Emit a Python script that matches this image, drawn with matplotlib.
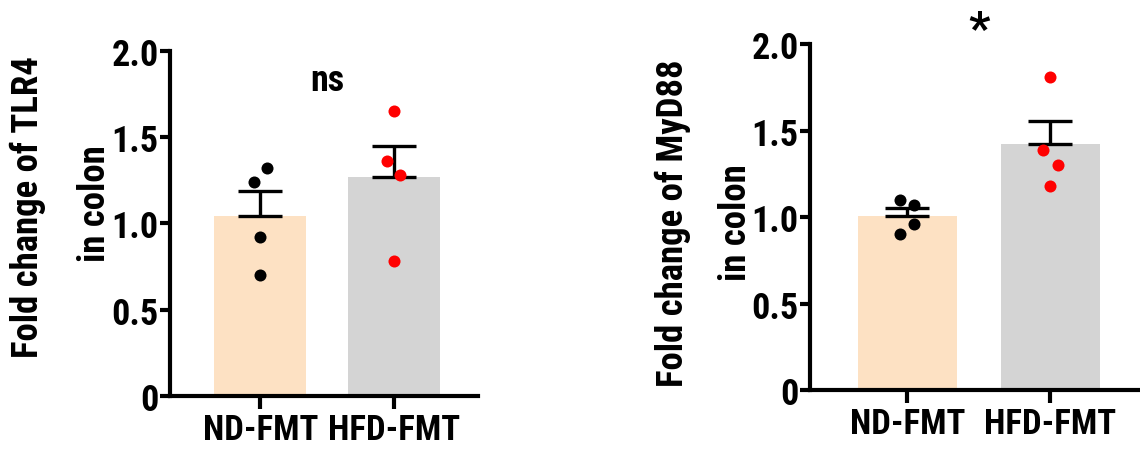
import numpy as np
import matplotlib
matplotlib.use('Agg')
import matplotlib.pyplot as plt

groups = ['ND-FMT', 'HFD-FMT']

tlr4_nd = [1.32, 1.24, 0.92, 0.70]
tlr4_hfd = [1.65, 1.36, 1.28, 0.78]
tlr4_x_offsets = [[0.05, -0.05, 0.0, 0.0], [0.0, -0.05, 0.05, 0.0]]

myd88_nd = [1.10, 1.07, 0.96, 0.90]
myd88_hfd = [1.81, 1.39, 1.30, 1.18]
myd88_x_offsets = [[-0.05, 0.05, 0.05, -0.05], [0.0, -0.05, 0.05, 0.0]]

bar_colors = ['#FDE1C3', '#D4D4D4']
dot_colors = ['black', 'red']

plt.rcParams['font.family'] = ['Roboto Condensed', 'Liberation Sans', 'DejaVu Sans']
plt.rcParams['font.weight'] = 'bold'

W, H = 1140, 452


def panel(ax, nd, hfd, offsets, sig, sig_size, sig_y):
    data = [np.array(nd), np.array(hfd)]
    x = np.arange(len(groups))
    means = [d.mean() for d in data]
    sems = [d.std(ddof=1) / np.sqrt(len(d)) for d in data]
    ax.bar(x, means, width=0.69, color=bar_colors, zorder=1)
    for i in range(len(groups)):
        ax.errorbar(x[i], means[i], yerr=[[0], [sems[i]]], color='black',
                    capsize=16, elinewidth=2.4, capthick=2.4, zorder=2)
        ax.scatter(x[i] + np.array(offsets[i]), data[i], s=75,
                   color=dot_colors[i], zorder=3, linewidths=0)
    ax.set_ylim(0, 2.0)
    ax.set_xlim(-0.68, 1.63)
    ax.set_yticks([0, 0.5, 1.0, 1.5, 2.0])
    ax.set_yticklabels(['0', '0.5', '1.0', '1.5', '2.0'])
    ax.set_xticks(x)
    ax.set_xticklabels(groups)
    ax.tick_params(axis='y', labelsize=26, width=3, length=7, pad=1)
    ax.tick_params(axis='x', labelsize=25, width=3, length=9, pad=3)
    for s in ['top', 'right']:
        ax.spines[s].set_visible(False)
    for s in ['left', 'bottom']:
        ax.spines[s].set_linewidth(3)
    ax.text(0.5, sig_y, sig, transform=ax.transData, ha='center', va='center',
            fontsize=sig_size, fontweight='bold', clip_on=False)


fig = plt.figure(figsize=(11.4, 4.52), dpi=100)
ax1 = fig.add_axes([0.149, 0.122, 0.27, 0.763])
ax2 = fig.add_axes([0.7105, 0.135, 0.29, 0.765])

panel(ax1, tlr4_nd, tlr4_hfd, tlr4_x_offsets, 'ns', 26, 1.83)
panel(ax2, myd88_nd, myd88_hfd, myd88_x_offsets, '*', 34, 2.08)

# two-line y labels
label_kw = dict(rotation=90, ha='center', va='center', fontsize=26.5, fontweight='bold')
fig.text(28 / W, 1 - 207 / H, 'Fold change of TLR4', **label_kw)
fig.text(95 / W, 1 - 204 / H, 'in colon', **label_kw)
fig.text(673 / W, 1 - 223 / H, 'Fold change of MyD88', **label_kw)
fig.text(736 / W, 1 - 223 / H, 'in colon', **label_kw)

fig.savefig('out.png', dpi=100)
